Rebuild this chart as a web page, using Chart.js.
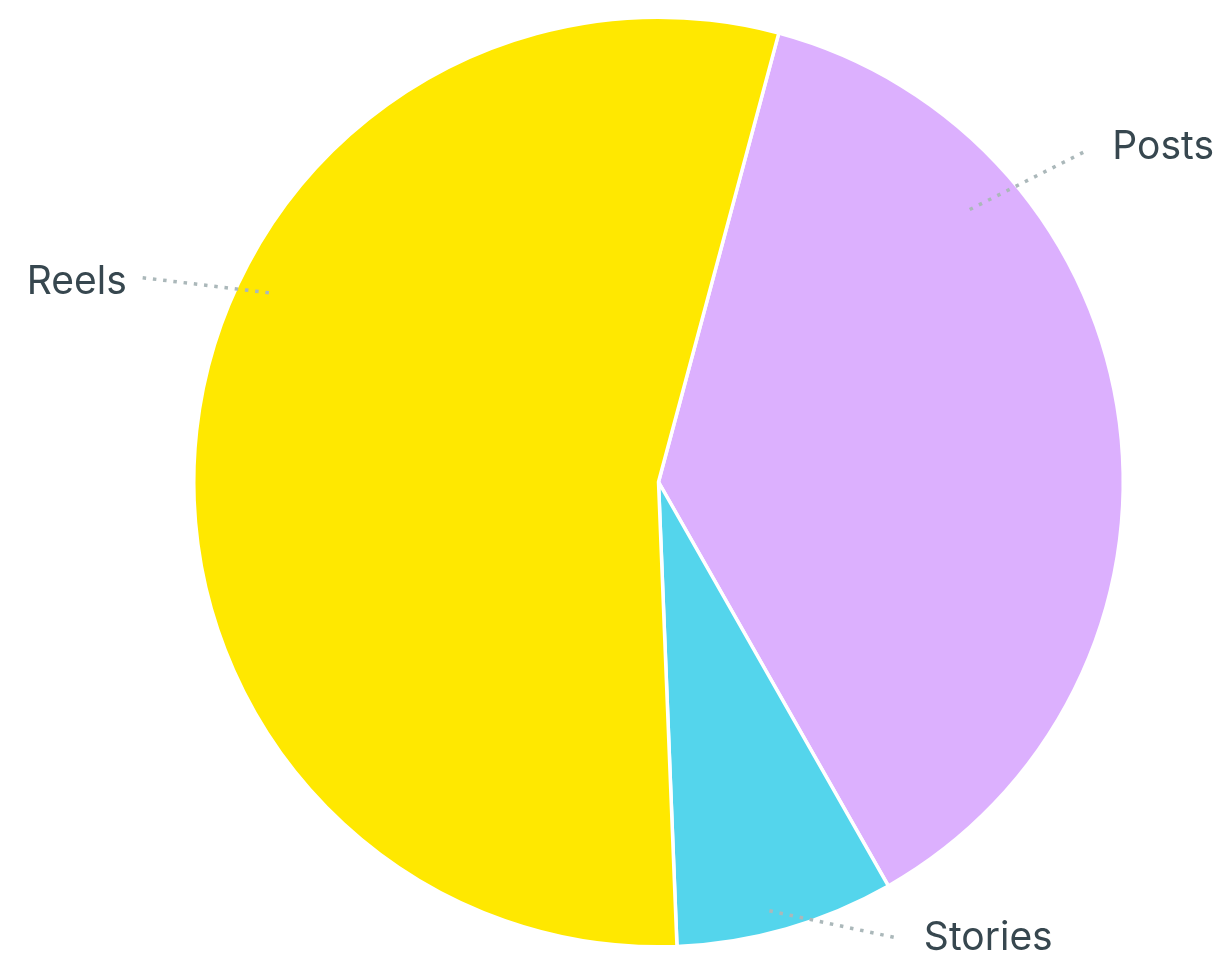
<!DOCTYPE html>
<html>
<head>
<meta charset="utf-8">
<script src="https://cdn.jsdelivr.net/npm/chart.js@4/dist/chart.umd.min.js"></script>
<style>
  html, body { margin: 0; padding: 0; background: #fff; }
  #wrap { width: 1229px; height: 962px; }
</style>
</head>
<body>
<div id="wrap"><canvas id="pieChart"></canvas></div>
<script>
// data
const categories = ['Posts', 'Stories', 'Reels'];
const shares = [37.6, 7.6, 54.8];
const sliceColors = ['#dcb0fe', '#54d5ec', '#ffe800'];

// where each leader line starts / ends (degrees clockwise from top, fraction of radius)
const leaderLines = {
    Posts:   { fromAngle: 48.8,  fromR: 0.89,  toAngle: 52.3,  toR: 1.169, gap: 24, dy: -2, side: 'right' },
    Stories: { fromAngle: 165.5, fromR: 0.953, toAngle: 152.4, toR: 1.107, gap: 27, dy: 0,  side: 'right' },
    Reels:   { fromAngle: 295.9, fromR: 0.932, toAngle: 291.5, toR: 1.202, gap: 12, dy: 5,  side: 'left' }
};

const outsideLabels = {
    id: 'outsideLabels',
    afterDatasetsDraw(chart) {
        const ctx = chart.ctx;
        const arcs = chart.getDatasetMeta(0).data;
        arcs.forEach((arc, i) => {
            const name = chart.data.labels[i];
            const cfg = leaderLines[name];
            const r = arc.outerRadius;
            const pt = (deg, f) => {
                const a = deg * Math.PI / 180;
                return { x: arc.x + Math.sin(a) * r * f, y: arc.y - Math.cos(a) * r * f };
            };
            const p1 = pt(cfg.fromAngle, cfg.fromR);
            const p2 = pt(cfg.toAngle, cfg.toR);
            ctx.save();
            ctx.strokeStyle = '#abb8ba';
            ctx.lineWidth = 3.5;
            ctx.setLineDash([3.5, 6.8]);
            ctx.beginPath();
            ctx.moveTo(p1.x, p1.y);
            ctx.lineTo(p2.x, p2.y);
            ctx.stroke();
            ctx.setLineDash([]);
            ctx.font = '39px Inter';
            ctx.fillStyle = '#37474f';
            ctx.textBaseline = 'middle';
            if (cfg.side === 'right') {
                ctx.textAlign = 'left';
                ctx.fillText(name, p2.x + cfg.gap, p2.y + cfg.dy);
            } else {
                ctx.textAlign = 'right';
                ctx.fillText(name, p2.x - cfg.gap, p2.y + cfg.dy);
            }
            ctx.restore();
        });
    }
};

document.addEventListener('DOMContentLoaded', function() {
    const ctx = document.querySelector('#pieChart').getContext('2d');
    new Chart(ctx, {
        type: 'pie',
        data: {
            labels: categories,
            datasets: [{
                data: shares,
                backgroundColor: sliceColors,
                borderColor: '#ffffff',
                borderWidth: 3.5
            }]
        },
        options: {
            responsive: true,
            maintainAspectRatio: false,
            animation: false,
            rotation: 15,
            layout: { padding: { left: 192, right: 104, top: 15, bottom: 13 } },
            plugins: {
                legend: { display: false },
                tooltip: { enabled: false }
            }
        },
        plugins: [outsideLabels]
    });
});
</script>
</body>
</html>
